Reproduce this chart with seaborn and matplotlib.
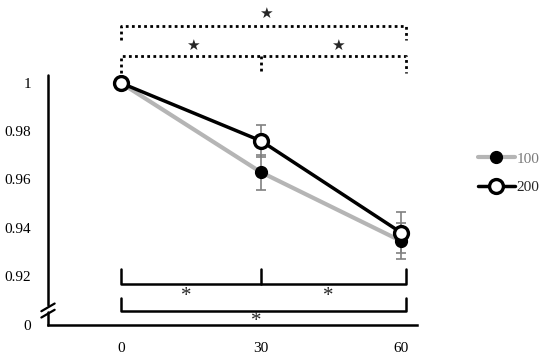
import matplotlib
matplotlib.use("Agg")
import matplotlib.pyplot as plt
import numpy as np
import pandas as pd
import seaborn as sns

# data
times = [0, 30, 60]
mean_100 = [1.0, 0.963, 0.9345]
err_100 = [0.0, 0.0072, 0.0075]
mean_200 = [1.0, 0.976, 0.938]
err_200 = [0.0, 0.0065, 0.0085]
groups = ["100", "200"]
x_ticks = [0, 30, 60]
y_ticks = [0.8997, 0.92, 0.94, 0.96, 0.98, 1.0]
y_tick_labels = ["0", "0.92", "0.94", "0.96", "0.98", "1"]

df = pd.DataFrame({
    "time": times * 2,
    "value": mean_100 + mean_200,
    "err": err_100 + err_200,
    "group": [groups[0]] * 3 + [groups[1]] * 3,
})

sns.set_style("white")
plt.rcParams["font.family"] = ["Liberation Serif", "DejaVu Sans"]

W, H = 550, 358
fig = plt.figure(figsize=(5.5, 3.58), dpi=100)
ax = fig.add_axes([48 / W, 1 - 325 / H, (417 - 48) / W, (325 - 75) / H])

gray = "#b5b5b5"
ebar = "#808080"

d100 = df[df["group"] == "100"]
d200 = df[df["group"] == "200"]

# error bars first, under the lines
ax.errorbar(d100["time"], d100["value"], yerr=d100["err"], fmt="none",
            ecolor=ebar, elinewidth=1.2, capsize=3.5, capthick=1.2, zorder=2)
ax.errorbar(d200["time"], d200["value"], yerr=d200["err"], fmt="none",
            ecolor=ebar, elinewidth=1.2, capsize=3.5, capthick=1.2, zorder=2)

sns.lineplot(data=d100, x="time", y="value", ax=ax, color=gray, linewidth=3,
             marker="o", markersize=8.5, markerfacecolor="black",
             markeredgecolor="black", markeredgewidth=1, label="100", zorder=3)
sns.lineplot(data=d200, x="time", y="value", ax=ax, color="black", linewidth=2.5,
             marker="o", markersize=10, markerfacecolor="white",
             markeredgecolor="black", markeredgewidth=2.4, label="200", zorder=4)

ax.set_xlim(-15.6, 63.4)
ax.set_ylim(0.8997, 1.0033)
ax.set_xticks(x_ticks)
ax.set_xticklabels([str(t) for t in x_ticks])
ax.set_yticks(y_ticks)
ax.set_yticklabels(y_tick_labels)
ax.tick_params(axis="both", length=0, labelsize=11, colors="black")
ax.tick_params(axis="y", pad=12)
ax.tick_params(axis="x", pad=12)
ax.set_xlabel("")
ax.set_ylabel("")

for s in ["top", "right", "left"]:
    ax.spines[s].set_visible(False)
ax.spines["bottom"].set_color("black")
ax.spines["bottom"].set_linewidth(1.8)

# broken y axis drawn by hand
yt = ax.get_yaxis_transform()
ax.plot([0, 0], [0.9078, 1.0033], color="black", lw=1.8, transform=yt, clip_on=False)
ax.plot([0, 0], [0.8997, 0.9050], color="black", lw=1.8, transform=yt, clip_on=False)
for y0 in [0.9044, 0.9070]:
    ax.plot([-0.018, 0.018], [y0 - 0.0016, y0 + 0.0016], color="black", lw=1.6,
            transform=yt, clip_on=False)

# significance brackets (dotted, above)
dot = dict(color="black", lw=2, ls=(0, (1, 1.2)), clip_on=False)
ax.plot([0, 0, 61, 61], [1.0178, 1.0238, 1.0238, 1.0178], **dot)
ax.plot([0, 0, 61, 61], [1.0041, 1.0112, 1.0112, 1.0041], **dot)
ax.plot([30, 30], [1.0112, 1.0041], **dot)
for sx, sy in [(31, 1.0290), (15.5, 1.0157), (46.5, 1.0157)]:
    ax.text(sx, sy, "★", ha="center", va="center", fontsize=11,
            family="DejaVu Sans", clip_on=False)

# significance brackets (solid, below)
sol = dict(color="black", lw=1.8, clip_on=False)
ax.plot([0, 0, 61, 61], [0.9229, 0.9167, 0.9167, 0.9229], **sol)
ax.plot([30, 30], [0.9167, 0.9229], **sol)
ax.plot([0, 0, 61, 61], [0.9109, 0.9053, 0.9053, 0.9109], **sol)
ax.text(14, 0.9115, "*", ha="center", va="center", fontsize=15)
ax.text(44.5, 0.9115, "*", ha="center", va="center", fontsize=15)
ax.text(29, 0.9010, "*", ha="center", va="center", fontsize=15)

leg = ax.legend(loc="upper left", bbox_to_anchor=(478 / W, 1 - 152 / H),
                bbox_transform=fig.transFigure, frameon=False, fontsize=11,
                handlelength=2.4, handletextpad=0.1, labelspacing=0.95,
                borderpad=0, borderaxespad=0)
leg.get_texts()[0].set_color("#7a7a7a")

fig.savefig("out.png", dpi=100)
